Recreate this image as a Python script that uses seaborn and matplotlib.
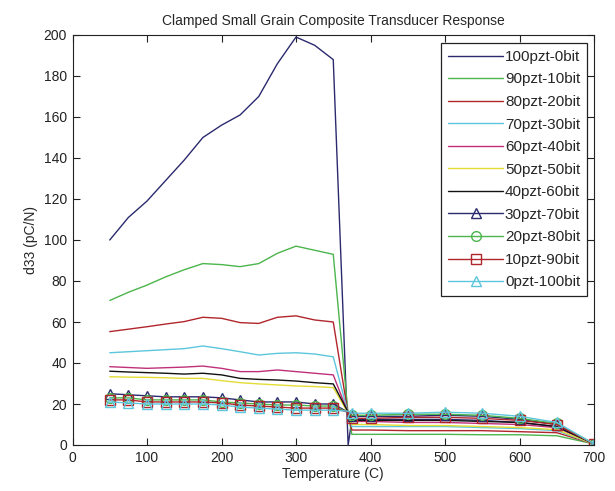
import numpy as np
import pandas as pd
import matplotlib
matplotlib.use("Agg")
import matplotlib.pyplot as plt
import seaborn as sns

# ---------------- data ----------------
temps = [50, 75, 100, 125, 150, 175, 200, 225, 250, 275, 300, 325, 350,
         370, 375, 400, 450, 500, 550, 600, 650, 700]

labels = ["100pzt-0bit", "90pzt-10bit", "80pzt-20bit", "70pzt-30bit",
          "60pzt-40bit", "50pzt-50bit", "40pzt-60bit", "30pzt-70bit",
          "20pzt-80bit", "10pzt-90bit", "0pzt-100bit"]

pzt100 = [100, 111, 119, 129, 139, 150, 156, 161, 170, 186, 199, 195, 188,
          0, 12.5, 12.5, 12.5, 12.5, 12, 11, 9, 0.5]
pzt90 = [70.5, 74.5, 78, 82, 85.5, 88.5, 88, 87, 88.5, 93.5, 97, 95, 93,
         15, 5.2, 5.2, 5.2, 5.2, 5, 5, 4.5, 0.5]
pzt80 = [55.3, 56.5, 57.7, 59, 60.2, 62.3, 61.8, 59.7, 59.3, 62.3, 63, 61, 60,
         15, 7.3, 7.3, 7, 7, 7, 6.5, 6, 0.5]
pzt70 = [45, 45.5, 46, 46.5, 47, 48.3, 47, 45.5, 43.9, 44.7, 45, 44.4, 43,
         15.5, 9, 9, 9, 9, 8.5, 8, 7, 0.5]
pzt60 = [38.2, 37.8, 37.4, 37.7, 38, 38.5, 37.4, 35.8, 35.8, 36.6, 35.8, 35, 34.2,
         15.5, 11.5, 11.5, 11, 11, 10.5, 10, 8.5, 0.5]
pzt50 = [33.3, 33.1, 33, 32.8, 32.5, 32.5, 31.4, 30.4, 29.8, 29.3, 28.8, 28.5, 28,
         15.5, 10, 10, 9.5, 9.5, 9, 8.5, 7.5, 0.5]
pzt40 = [36, 35.6, 35.3, 35, 34.6, 35, 34.2, 32.5, 32, 31.7, 31.2, 30.4, 29.8,
         16, 12, 12, 12, 12, 11.5, 11, 9, 0.5]
pzt30 = [25, 24.5, 24, 23.5, 23.5, 23.5, 23, 22, 21, 21, 21, 20, 20,
         16, 14, 14, 14, 14.5, 14, 12.5, 10, 0.5]
pzt20 = [23, 23, 22, 22, 22, 22, 21, 20.5, 20, 19.5, 19.5, 19, 19,
         16, 14.5, 14.5, 15, 15, 14.5, 13, 10.5, 0.5]
pzt10 = [22, 22, 21, 21, 21, 21, 20.5, 19.5, 19, 18.5, 18, 18, 18,
         16, 13, 13, 13.5, 13.5, 13, 12, 10, 0.5]
pzt0 = [21, 20.5, 20, 20, 20, 20, 19.5, 18.5, 18, 17.5, 17, 17, 17,
        16.5, 15.5, 15.5, 15.5, 16, 15.5, 14, 11, 0.5]

series = [pzt100, pzt90, pzt80, pzt70, pzt60, pzt50, pzt40, pzt30, pzt20, pzt10, pzt0]

x_ticks = [0, 100, 200, 300, 400, 500, 600, 700]
y_ticks = [0, 20, 40, 60, 80, 100, 120, 140, 160, 180, 200]

# ---------------- style ----------------
colors = ["#2b2a6e", "#4cb54c", "#b0262c", "#5cc6dc", "#c0307a", "#e4dc34",
          "#111111", "#2b2a6e", "#4cb54c", "#b0262c", "#5cc6dc"]
markers = [None, None, None, None, None, None, None, "^", "o", "s", "^"]

sns.set_style("white")
plt.rcParams["font.family"] = ["Liberation Sans", "DejaVu Sans"]
plt.rcParams["font.size"] = 10

fig = plt.figure(figsize=(6.15, 4.91), dpi=100)
ax = fig.add_axes([72.5 / 615, 1 - 445 / 491, (594 - 72.5) / 615, (445 - 35) / 491])

mark_idx = [i for i in range(len(temps)) if temps[i] != 370]

for lab, vals, c, m in zip(labels, series, colors, markers):
    df = pd.DataFrame({"Temperature": temps, "d33": vals})
    kw = {}
    if m is not None:
        kw = dict(marker=m, markersize=7, markerfacecolor="none",
                  markeredgecolor=c, markeredgewidth=1.0, markevery=mark_idx)
    sns.lineplot(data=df, x="Temperature", y="d33", ax=ax, color=c,
                 linewidth=1.0, label=lab, sort=False, estimator=None, **kw)

ax.set_xlim(0, 700)
ax.set_ylim(0, 200)
ax.set_xticks(x_ticks)
ax.set_yticks(y_ticks)
ax.set_xlabel("Temperature (C)", fontsize=10, labelpad=2)
ax.set_ylabel("d33 (pC/N)", fontsize=10, labelpad=4)
ax.set_title("Clamped Small Grain Composite Transducer Response", fontsize=10, pad=7)

ax.tick_params(direction="in", length=5, width=0.8, top=True, right=True,
               bottom=True, left=True, labelsize=10, colors="#222222",
               pad=4)
for sp in ax.spines.values():
    sp.set_color("#222222")
    sp.set_linewidth(0.8)

leg = ax.legend(loc="upper right", bbox_to_anchor=(1 - 7 / 521.5, 1 - 8 / 410),
                borderaxespad=0, fontsize=11, frameon=True, fancybox=False,
                edgecolor="#222222", framealpha=1, handlelength=3.6,
                handletextpad=0.12, labelspacing=0.56, borderpad=0.45,
                numpoints=1)
leg.get_frame().set_linewidth(0.9)

fig.savefig("out.png", dpi=100, facecolor="white")
